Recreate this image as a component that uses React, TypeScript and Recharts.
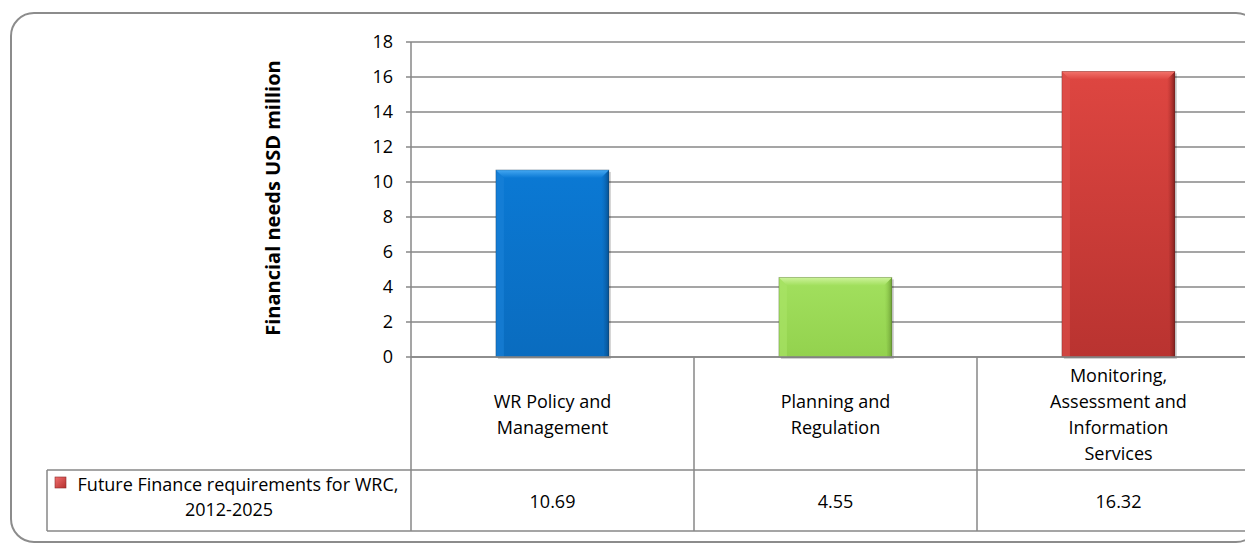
import React from 'react';
import { BarChart, Bar, XAxis, YAxis, CartesianGrid } from 'recharts';

// data
const categories = ['WR Policy and\nManagement', 'Planning and\nRegulation', 'Monitoring,\nAssessment and\nInformation\nServices'];
const financeValues = [10.69, 4.55, 16.32];
const yTicks = [0, 2, 4, 6, 8, 10, 12, 14, 16, 18];
const seriesName = 'Future Finance requirements for WRC,\n2012-2025';
const yLabel = 'Financial needs USD million';

const FONT = "'Open Sans', sans-serif";
const FS = 18;
const GRID = '#878787';

// layout
const W = 1270;
const H = 543;
const PLOT_LEFT = 411;
const PLOT_TOP = 42;
const PLOT_BOTTOM = 357;
const PLOT_RIGHT = 1260;
const BAND = (PLOT_RIGHT - PLOT_LEFT) / categories.length;
const ROW_SPLIT = 470;
const TABLE_BOTTOM = 531;
const LEGEND_LEFT = 47;

const barColors = [
  { top: '#0b79d4', bottom: '#0a6cbf', light: '#45a8f2', dark: '#074f8e', side: '#1a82d8' },
  { top: '#a2e05e', bottom: '#93d24e', light: '#cdf39b', dark: '#6d9e36', side: '#aae468' },
  { top: '#de4641', bottom: '#b93330', light: '#f2736b', dark: '#7e1f1d', side: '#e0524c' },
];

const data = categories.map((c, i) => ({ name: c, value: financeValues[i] }));

const BevelBar = (props: any) => {
  const { x, y, width, height, index } = props;
  const c = barColors[index];
  const b = 8;
  return (
    <g>
      <rect x={x + 2} y={y + 2} width={width} height={height} fill="rgba(0,0,0,0.18)" />
      <rect x={x} y={y} width={width} height={height} fill={`url(#body${index})`} />
      <polygon points={`${x},${y} ${x + b},${y + b} ${x + b},${y + height} ${x},${y + height}`} fill={c.side} opacity={0.6} />
      <polygon points={`${x + width},${y} ${x + width},${y + height} ${x + width - b * 0.6},${y + height} ${x + width - b},${y + b}`} fill={`url(#right${index})`} />
      <polygon points={`${x},${y} ${x + width},${y} ${x + width - b},${y + b} ${x + b},${y + b}`} fill={`url(#topb${index})`} />
      <rect x={x} y={y} width={width} height={height} fill="none" stroke="rgba(0,0,0,0.25)" strokeWidth={0.8} />
    </g>
  );
};

const TableTick = (props: any) => {
  const { x, index } = props;
  const left = x - BAND / 2;
  const right = x + BAND / 2;
  const lines = String(categories[index]).split('\n');
  const lh = 26;
  const mid = 414;
  const firstY = mid - ((lines.length - 1) * lh) / 2;
  const nameLines = seriesName.split('\n');
  return (
    <g>
      {index === 0 && (
        <g>
          <line x1={LEGEND_LEFT} y1={ROW_SPLIT} x2={left} y2={ROW_SPLIT} stroke={GRID} strokeWidth={1.5} />
          <line x1={LEGEND_LEFT} y1={TABLE_BOTTOM} x2={left} y2={TABLE_BOTTOM} stroke={GRID} strokeWidth={1.5} />
          <line x1={LEGEND_LEFT} y1={ROW_SPLIT} x2={LEGEND_LEFT} y2={TABLE_BOTTOM} stroke={GRID} strokeWidth={1.5} />
          <line x1={left} y1={PLOT_BOTTOM} x2={left} y2={TABLE_BOTTOM} stroke={GRID} strokeWidth={1.5} />
          <rect x={55} y={477} width={11} height={11} fill="url(#legendKey)" stroke="#8a2a28" strokeWidth={0.6} />
          <text x={238} y={484} fontFamily={FONT} fontSize={FS} fill="#000" textAnchor="middle" dominantBaseline="central">{nameLines[0]}</text>
          <text x={(LEGEND_LEFT + left) / 2} y={509} fontFamily={FONT} fontSize={FS} fill="#000" textAnchor="middle" dominantBaseline="central">{nameLines[1]}</text>
        </g>
      )}
      <line x1={left} y1={ROW_SPLIT} x2={right} y2={ROW_SPLIT} stroke={GRID} strokeWidth={1.5} />
      <line x1={left} y1={TABLE_BOTTOM} x2={right} y2={TABLE_BOTTOM} stroke={GRID} strokeWidth={1.5} />
      <line x1={right} y1={PLOT_BOTTOM} x2={right} y2={TABLE_BOTTOM} stroke={GRID} strokeWidth={1.5} />
      {lines.map((l, i) => (
        <text key={i} x={x} y={firstY + i * lh} fontFamily={FONT} fontSize={FS} fill="#000" textAnchor="middle" dominantBaseline="central">{l}</text>
      ))}
      <text x={x} y={(ROW_SPLIT + TABLE_BOTTOM) / 2} fontFamily={FONT} fontSize={FS} fill="#000" textAnchor="middle" dominantBaseline="central">
        {financeValues[index].toFixed(2)}
      </text>
    </g>
  );
};

const AxisTitle = () => (
  <text
    x={272}
    y={198}
    transform="rotate(-90, 272, 198)"
    textAnchor="middle"
    dominantBaseline="central"
    fontFamily={FONT}
    fontWeight={700}
    fontSize={20}
    fill="#000"
  >
    {yLabel}
  </text>
);

export default function App() {
  return (
    <div style={{ position: 'absolute', left: 0, top: 0, width: 1245, height: H, overflow: 'hidden', background: '#fff' }}>
      <div
        style={{
          position: 'absolute',
          left: 10,
          top: 12,
          width: 1250,
          height: 531,
          border: '2px solid #8c8c8c',
          borderRadius: 24,
          boxSizing: 'border-box',
        }}
      />
      <div style={{ position: 'absolute', left: 0, top: 0 }}>
        <BarChart width={W} height={H} data={data} margin={{ top: PLOT_TOP, right: W - PLOT_RIGHT, bottom: 0, left: 0 }} barCategoryGap="30%">
          <defs>
            {barColors.map((c, i) => (
              <React.Fragment key={i}>
                <linearGradient id={`body${i}`} x1="0" y1="0" x2="0" y2="1">
                  <stop offset="0%" stopColor={c.top} />
                  <stop offset="100%" stopColor={c.bottom} />
                </linearGradient>
                <linearGradient id={`right${i}`} x1="0" y1="0" x2="1" y2="0">
                  <stop offset="0%" stopColor={c.bottom} stopOpacity={0} />
                  <stop offset="100%" stopColor={c.dark} />
                </linearGradient>
                <linearGradient id={`topb${i}`} x1="0" y1="0" x2="0" y2="1">
                  <stop offset="0%" stopColor={c.light} />
                  <stop offset="100%" stopColor={c.top} />
                </linearGradient>
              </React.Fragment>
            ))}
            <linearGradient id="legendKey" x1="0" y1="0" x2="1" y2="1">
              <stop offset="0%" stopColor="#f07070" />
              <stop offset="100%" stopColor="#b52f2c" />
            </linearGradient>
          </defs>
          <CartesianGrid vertical={false} stroke={GRID} strokeWidth={1.5} />
          <XAxis
            dataKey="name"
            height={H - PLOT_BOTTOM}
            axisLine={{ stroke: GRID, strokeWidth: 1.5 }}
            tickLine={false}
            tick={<TableTick />}
            interval={0}
          />
          <YAxis
            width={PLOT_LEFT}
            domain={[0, 18]}
            ticks={yTicks}
            interval={0}
            axisLine={{ stroke: GRID, strokeWidth: 1.5 }}
            tickLine={{ stroke: GRID, strokeWidth: 1.5 }}
            tickSize={5}
            tickMargin={13}
            tick={{ fill: '#000', fontSize: FS, fontFamily: FONT }}
            label={<AxisTitle />}
          />
          <Bar dataKey="value" shape={<BevelBar />} isAnimationActive={false} />
        </BarChart>
      </div>
    </div>
  );
}
